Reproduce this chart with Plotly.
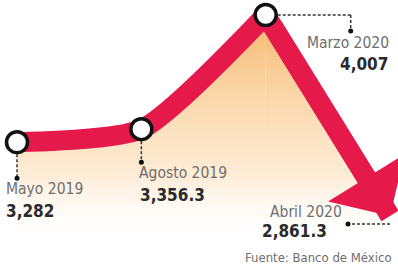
import plotly.graph_objects as go

# ---- data ----
months = ["Mayo 2019", "Agosto 2019", "Marzo 2020", "Abril 2020"]
values = [3282, 3356.3, 4007, 2861.3]
value_labels = ["3,282", "3,356.3", "4,007", "2,861.3"]
source = "Fuente: Banco de México"

RED = "#E5194A"
FONT = "DejaVu Sans Condensed, Liberation Sans Narrow, Roboto, sans-serif"
xi = list(range(len(months)))

grad = dict(type="vertical", start=2700, stop=4007,
            colorscale=[[0, "rgba(255,255,255,0)"],
                        [0.3, "rgba(252,228,196,0.7)"],
                        [0.7, "rgba(249,205,150,0.9)"],
                        [1, "rgba(245,182,105,1)"]])

fig = go.Figure()
# rising part (smooth)
fig.add_trace(go.Scatter(x=xi[:3], y=values[:3], mode="lines",
                         line=dict(color=RED, width=20, shape="spline", smoothing=0.6),
                         fill="tozeroy", fillgradient=grad, hoverinfo="skip"))
# falling part (fill + shaft)
fig.add_trace(go.Scatter(x=xi[2:], y=values[2:], mode="lines",
                         line=dict(color=RED, width=20, backoff=[0, 40]),
                         fill="tozeroy", fillgradient=grad, hoverinfo="skip"))
# circles
fig.add_trace(go.Scatter(x=xi[:3], y=values[:3], mode="markers",
                         marker=dict(symbol="circle", size=21, color="white",
                                     line=dict(color="#111", width=3.5)),
                         hoverinfo="skip", cliponaxis=False))

# arrow (falling segment) drawn from Marzo to Abril through the axes
fig.add_annotation(x=xi[3], y=values[3], ax=xi[2], ay=values[2],
                   xref="x", yref="y", axref="x", ayref="y", text="",
                   showarrow=True, arrowhead=1, arrowsize=0.75, arrowwidth=20,
                   arrowcolor=RED, startstandoff=11, standoff=0)

shapes = []
DASH = "3px,2px"
def seg(i, x0, y0, x1, y1):
    shapes.append(dict(type="line", xref="x", yref="y", xsizemode="pixel", ysizemode="pixel",
                       xanchor=xi[i], yanchor=values[i], x0=x0, y0=y0, x1=x1, y1=y1,
                       line=dict(color="#333", width=1.5, dash=DASH)))
def dot(i, x, y):
    shapes.append(dict(type="circle", xref="x", yref="y", xsizemode="pixel", ysizemode="pixel",
                       xanchor=xi[i], yanchor=values[i], x0=x-2.5, x1=x+2.5, y0=y-2.5, y1=y+2.5,
                       fillcolor="#111", line=dict(width=0)))

# Mayo
seg(0, 0, -12, 0, -36); dot(0, 0, -36)
# Agosto
seg(1, 0, -12, 0, -33); dot(1, 0, -33)
# Marzo
seg(2, 12, 0, 85, 0); seg(2, 85, 0, 85, -16); dot(2, 85, -16)
# Abril
seg(3, 0, -8, -42, -8); dot(3, -42, -8)
fig.update_layout(shapes=shapes)

GRAY = "#6e6e6e"
DARK = "#2a2a2a"
def lab(i, text, xanchor, xs, ys, bold=False):
    fig.add_annotation(x=xi[i], y=values[i], xref="x", yref="y", text=text, showarrow=False,
                       xanchor=xanchor, yanchor="middle", xshift=xs, yshift=ys,
                       font=dict(family=FONT, size=17 if bold else 15.5,
                                 color=DARK if bold else GRAY,
                                 weight="bold" if bold else "normal"))

lab(0, months[0], "left", -13, -47)
lab(0, value_labels[0], "left", -13, -69, True)
lab(1, months[1], "left", -4, -44)
lab(1, value_labels[1], "left", -3, -66, True)
lab(2, months[2], "right", 125, -28)
lab(2, value_labels[2], "right", 124, -49, True)
lab(3, months[3], "right", -46, 4)
lab(3, value_labels[3], "right", -61, -15, True)

fig.add_annotation(x=0.99, y=1 - 257 / 270, xref="paper", yref="paper", text=source,
                   showarrow=False, xanchor="right", yanchor="middle",
                   font=dict(family=FONT, size=13, color=GRAY))

fig.update_layout(
    width=398, height=270, margin=dict(l=0, r=0, t=0, b=0),
    paper_bgcolor="white", plot_bgcolor="white", showlegend=False,
    xaxis=dict(visible=False, range=[-0.1367, 3.064], fixedrange=True),
    yaxis=dict(visible=False, range=[2553.5, 4092.5], fixedrange=True),
)
fig.write_html("out.html", config={"displayModeBar": False},
               post_script="document.body.style.margin='0';document.body.style.overflow='hidden';")
